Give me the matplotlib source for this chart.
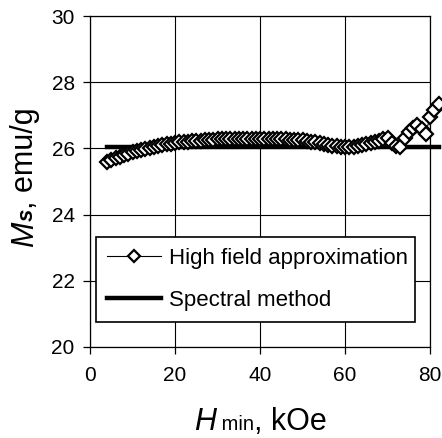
"""Ms vs Hmin: high field approximation vs spectral method."""

import matplotlib
matplotlib.use('Agg')
import matplotlib.pyplot as plt

plt.rcParams['font.family'] = ['Liberation Sans', 'DejaVu Sans']

# Datos
h_min = [4, 5, 6, 7, 8, 9, 10, 11, 12, 13, 14, 15, 16, 17, 18, 19, 20,
         21, 22, 23, 24, 25, 26, 27, 28, 29, 30, 31, 32, 33, 34, 35, 36,
         37, 38, 39, 40, 41, 42, 43, 44, 45, 46, 47, 48, 49, 50, 51, 52,
         53, 54, 55, 56, 57, 58, 59, 60, 61, 62, 63, 64, 65, 66, 67, 68,
         69, 70, 71, 72, 73, 74, 75, 76, 77, 78, 79, 80, 81, 82]
ms_high_field = [25.60, 25.65, 25.70, 25.75, 25.80, 25.84, 25.88, 25.92,
                 25.95, 25.98, 26.01, 26.04, 26.07, 26.10, 26.12, 26.14,
                 26.16, 26.18, 26.19, 26.20, 26.21, 26.22, 26.23, 26.24,
                 26.25, 26.26, 26.27, 26.27, 26.28, 26.28, 26.29, 26.29,
                 26.29, 26.29, 26.29, 26.29, 26.29, 26.29, 26.29, 26.28,
                 26.28, 26.28, 26.27, 26.26, 26.26, 26.25, 26.24, 26.22,
                 26.20, 26.18, 26.15, 26.12, 26.10, 26.08, 26.06, 26.05,
                 26.05, 26.04, 26.05, 26.08, 26.10, 26.12, 26.15, 26.18,
                 26.22, 26.27, 26.30, 26.15, 26.08, 26.05, 26.30, 26.50,
                 26.62, 26.72, 26.60, 26.45, 26.95, 27.15, 27.35]
spectral_h = [4, 82]
spectral_ms = [26.05, 26.05]

x_ticks = [0, 20, 40, 60, 80]
y_ticks = [20, 22, 24, 26, 28, 30]

W, H = 442, 438
fig = plt.figure(figsize=(W / 100, H / 100), dpi=100)
ax = fig.add_axes([90 / W, 1 - 347 / H, 340 / W, 331 / H])

ax.plot(spectral_h, spectral_ms, color='black', lw=3.2, clip_on=False,
        label='Spectral method', zorder=2)
ax.plot(h_min, ms_high_field, color='black', lw=0.8, marker='D', ms=7,
        mfc='white', mec='black', mew=1.6, clip_on=False,
        label='High field approximation', zorder=3)

ax.set_xlim(0, 80)
ax.set_ylim(20, 30)
ax.set_xticks(x_ticks)
ax.set_yticks(y_ticks)
ax.grid(True, color='black', lw=0.8)
ax.set_axisbelow(True)
for s in ax.spines.values():
    s.set_linewidth(0.9)
ax.tick_params(axis='both', direction='out', length=5, width=0.9,
               labelsize=15)
ax.tick_params(axis='x', pad=9)
ax.tick_params(axis='y', pad=6)

handles, labels = ax.get_legend_handles_labels()
leg = ax.legend(handles[::-1], labels[::-1], loc='lower left',
                bbox_to_anchor=(0.018, 0.0755, 0.938, 0.29), mode='expand',
                borderaxespad=0, fontsize=16, fancybox=False, framealpha=1,
                edgecolor='black', handlelength=2.4, handletextpad=0.4,
                labelspacing=0.95, borderpad=0.5, markerscale=0.85)
leg.get_frame().set_linewidth(1.2)

# Etiquetas de ejes con partes de distinto tamano sobre la misma linea base
def label_chain(piezas, cx, cy, vertical=False):
    textos = []
    for s, size, style, weight in piezas:
        t = fig.text(0, 0, s, fontsize=size, style=style, weight=weight,
                     rotation=90 if vertical else 0, rotation_mode='anchor',
                     ha='left', va='baseline')
        textos.append(t)
    fig.canvas.draw()
    r = fig.canvas.get_renderer()
    largos = []
    for t in textos:
        bb = t.get_window_extent(r)
        largos.append(bb.height if vertical else bb.width)
    pos = -sum(largos) / 2
    for t, l in zip(textos, largos):
        if vertical:
            t.set_position((cx / W, 1 - (cy - pos) / H))
        else:
            t.set_position(((cx + pos) / W, 1 - cy / H))
        pos += l

label_chain([('H', 22, 'italic', 'normal'),
             (' min', 14.5, 'normal', 'normal'),
             (', kOe', 22, 'normal', 'normal')], 260, 430)
label_chain([('M', 22, 'italic', 'normal'),
             ('s', 16, 'italic', 'bold'),
             (', emu/g', 22, 'normal', 'normal')], 33, 177, vertical=True)

fig.savefig('out.png', dpi=100)
